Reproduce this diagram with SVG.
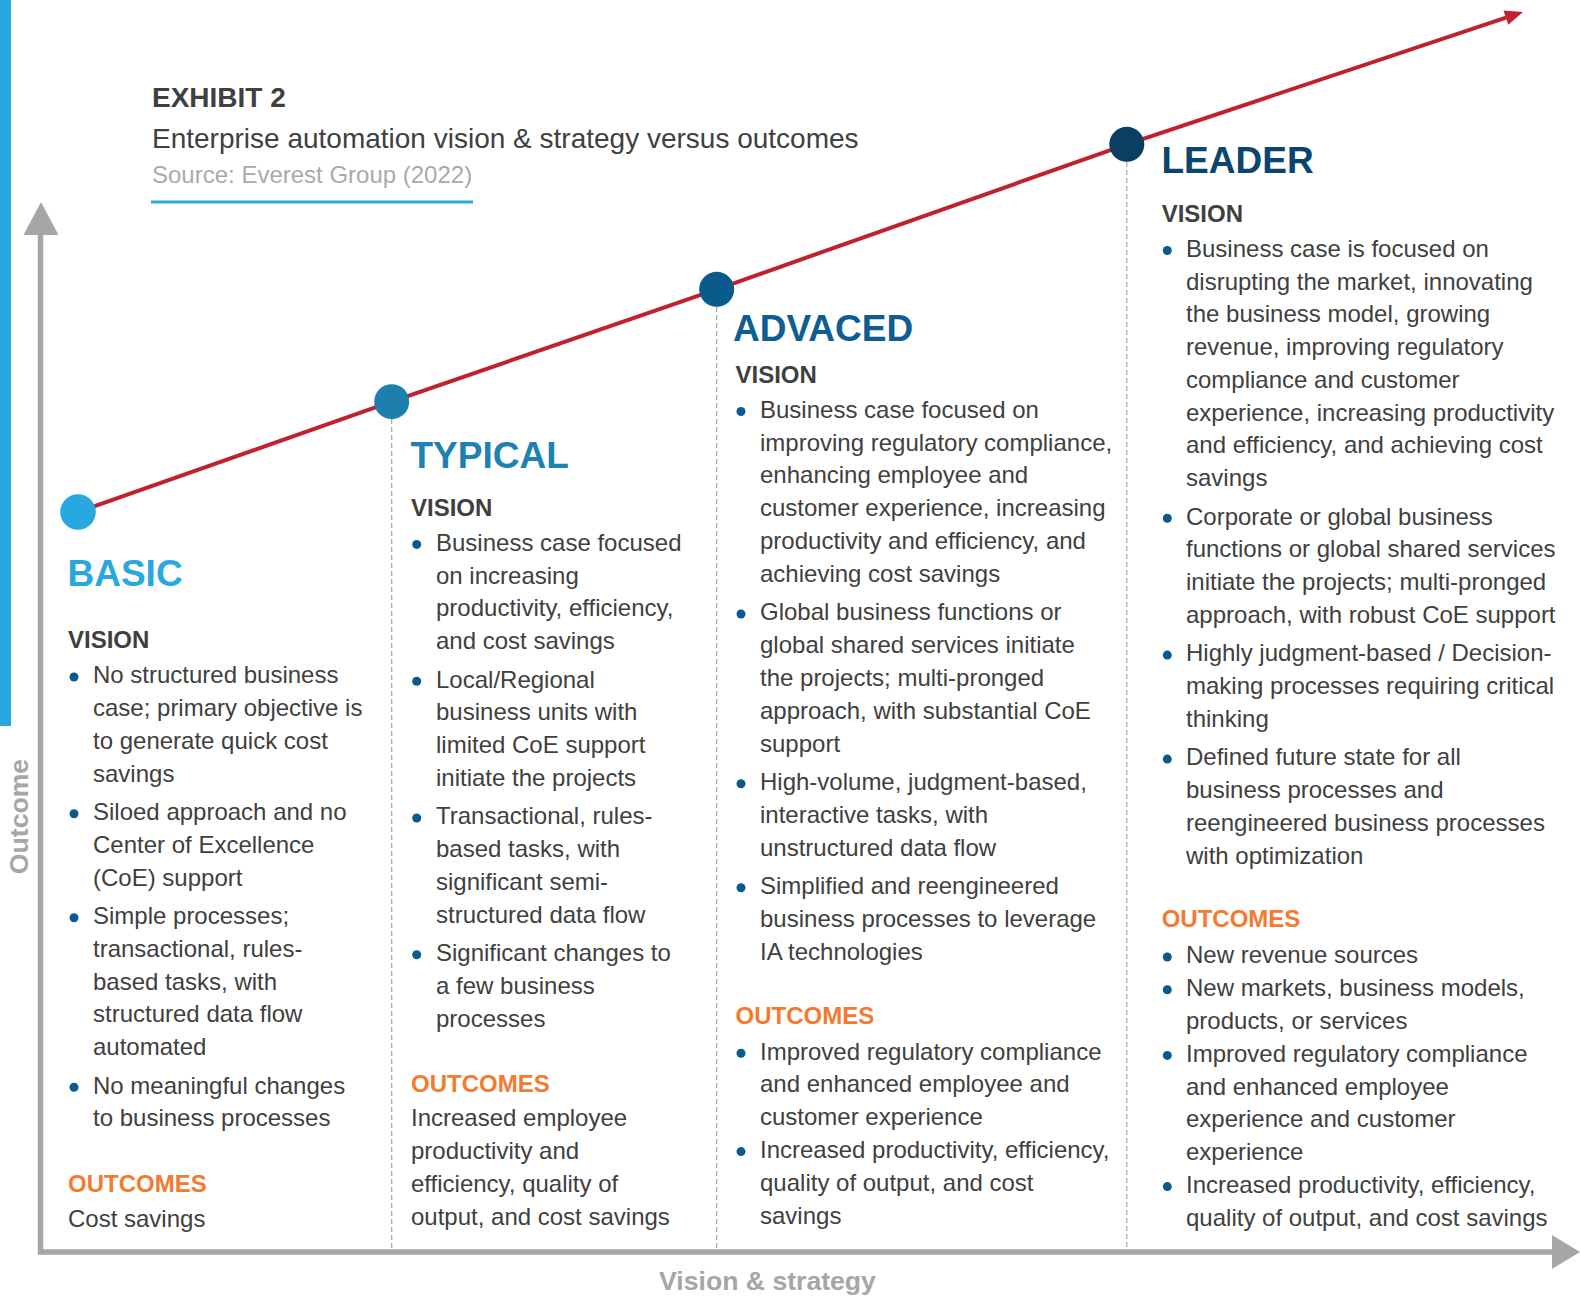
<svg xmlns="http://www.w3.org/2000/svg" width="1580" height="1296" viewBox="0 0 1580 1296">
<style>
text{font-family:"Liberation Sans",Arial,sans-serif}
.t{font-size:24px;fill:#404040}
.h{font-size:37px;font-weight:bold}
.v{font-size:24px;font-weight:bold;fill:#404040}
.o{font-size:24px;font-weight:bold;fill:#F47A30}
.b{fill:#0B5A8E}
.dash{stroke:#A6A6A6;stroke-width:1.2;stroke-dasharray:5 3;fill:none}
.ax{font-size:26.6px;font-weight:bold;fill:#A6A6A6}
</style>
<rect x="0" y="0" width="11" height="726" fill="#29A8E0"/>
<g id="title">
<text x="152" y="107" style="font-size:28px;font-weight:bold;fill:#404040">EXHIBIT 2</text>
<text x="152" y="148" style="font-size:28px;fill:#404040">Enterprise automation vision &amp; strategy versus outcomes</text>
<text x="152" y="183" style="font-size:24px;fill:#AAAAAA">Source: Everest Group (2022)</text>
<line x1="151" y1="202" x2="473" y2="202" stroke="#29A8E0" stroke-width="3"/>
</g>
<g id="axes">
<polyline points="40.5,232 40.5,1252 1555,1252" fill="none" stroke="#A6A6A6" stroke-width="5.5" stroke-linejoin="miter"/>
<polygon points="41,202 23.5,235 58.5,235" fill="#A6A6A6"/>
<polygon points="1580,1252 1552,1235 1552,1269" fill="#A6A6A6"/>
<text class="ax" transform="translate(28,816.5) rotate(-90)" text-anchor="middle" x="0" y="0">Outcome</text>
<text class="ax" x="767.5" y="1290" text-anchor="middle">Vision &amp; strategy</text>
</g>
<g id="connectors">
<line class="dash" x1="391.7" y1="419" x2="391.7" y2="1249"/>
<line class="dash" x1="716.7" y1="307" x2="716.7" y2="1249"/>
<line class="dash" x1="1126.8" y1="162" x2="1126.8" y2="1249"/>
<polyline points="78,512 391.7,401.7 716.7,289.3 1126.8,144.3 1506,17.7" fill="none" stroke="#C0202F" stroke-width="4"/>
<polygon points="1523,12 1508.3,24.8 1503.5,10.6" fill="#C0202F"/>
</g>
<g id="basic">
<circle cx="78" cy="512" r="17.8" fill="#29A8E0"/>
<text class="h" x="67.5" y="586" fill="#29A8E0">BASIC</text>
<text class="v" x="68" y="648.3">VISION</text>
<circle class="b" cx="74" cy="677" r="4.5"/>
<circle class="b" cx="74" cy="813.8" r="4.5"/>
<circle class="b" cx="74" cy="917.8" r="4.5"/>
<circle class="b" cx="74" cy="1087.3" r="4.5"/>
<text class="t">
<tspan x="93" y="683.3">No structured business</tspan>
<tspan x="93" y="716.1">case; primary objective is</tspan>
<tspan x="93" y="748.8">to generate quick cost</tspan>
<tspan x="93" y="781.6">savings</tspan>
<tspan x="93" y="820.1">Siloed approach and no</tspan>
<tspan x="93" y="852.9">Center of Excellence</tspan>
<tspan x="93" y="885.6">(CoE) support</tspan>
<tspan x="93" y="924.1">Simple processes;</tspan>
<tspan x="93" y="956.9">transactional, rules-</tspan>
<tspan x="93" y="989.6">based tasks, with</tspan>
<tspan x="93" y="1022.4">structured data flow</tspan>
<tspan x="93" y="1055.1">automated</tspan>
<tspan x="93" y="1093.6">No meaningful changes</tspan>
<tspan x="93" y="1126.4">to business processes</tspan>
</text>
<text class="o" x="68" y="1191.7">OUTCOMES</text>
<text class="t" x="68" y="1226.5">Cost savings</text>
</g>
<g id="typical">
<circle cx="391.7" cy="401.7" r="17.5" fill="#1D7FAE"/>
<text class="h" x="410.5" y="468.3" fill="#1D82B2">TYPICAL</text>
<text class="v" x="411" y="515.7">VISION</text>
<circle class="b" cx="416.7" cy="544.4" r="4.5"/>
<circle class="b" cx="416.7" cy="681.2" r="4.5"/>
<circle class="b" cx="416.7" cy="818" r="4.5"/>
<circle class="b" cx="416.7" cy="954.8" r="4.5"/>
<text class="t">
<tspan x="436" y="550.7">Business case focused</tspan>
<tspan x="436" y="583.5">on increasing</tspan>
<tspan x="436" y="616.2">productivity, efficiency,</tspan>
<tspan x="436" y="649">and cost savings</tspan>
<tspan x="436" y="687.5">Local/Regional</tspan>
<tspan x="436" y="720.3">business units with</tspan>
<tspan x="436" y="753">limited CoE support</tspan>
<tspan x="436" y="785.8">initiate the projects</tspan>
<tspan x="436" y="824.3">Transactional, rules-</tspan>
<tspan x="436" y="857.1">based tasks, with</tspan>
<tspan x="436" y="889.8">significant semi-</tspan>
<tspan x="436" y="922.6">structured data flow</tspan>
<tspan x="436" y="961.1">Significant changes to</tspan>
<tspan x="436" y="993.9">a few business</tspan>
<tspan x="436" y="1026.6">processes</tspan>
</text>
<text class="o" x="411" y="1091.7">OUTCOMES</text>
<text class="t">
<tspan x="411" y="1126.2">Increased employee</tspan>
<tspan x="411" y="1159">productivity and</tspan>
<tspan x="411" y="1191.7">efficiency, quality of</tspan>
<tspan x="411" y="1224.5">output, and cost savings</tspan>
</text>
</g>
<g id="advanced">
<circle cx="716.7" cy="289.3" r="17.5" fill="#0B5A8C"/>
<text class="h" x="733" y="341" fill="#0F5E91">ADVACED</text>
<text class="v" x="735.5" y="382.7">VISION</text>
<circle class="b" cx="741" cy="411.5" r="4.5"/>
<circle class="b" cx="741" cy="614" r="4.5"/>
<circle class="b" cx="741" cy="783.7" r="4.5"/>
<circle class="b" cx="741" cy="887.8" r="4.5"/>
<text class="t">
<tspan x="760" y="417.8">Business case focused on</tspan>
<tspan x="760" y="450.6">improving regulatory compliance,</tspan>
<tspan x="760" y="483.4">enhancing employee and</tspan>
<tspan x="760" y="516.2">customer experience, increasing</tspan>
<tspan x="760" y="549">productivity and efficiency, and</tspan>
<tspan x="760" y="581.8">achieving cost savings</tspan>
<tspan x="760" y="620.3">Global business functions or</tspan>
<tspan x="760" y="653.1">global shared services initiate</tspan>
<tspan x="760" y="685.9">the projects; multi-pronged</tspan>
<tspan x="760" y="718.7">approach, with substantial CoE</tspan>
<tspan x="760" y="751.5">support</tspan>
<tspan x="760" y="790">High-volume, judgment-based,</tspan>
<tspan x="760" y="822.8">interactive tasks, with</tspan>
<tspan x="760" y="855.6">unstructured data flow</tspan>
<tspan x="760" y="894.1">Simplified and reengineered</tspan>
<tspan x="760" y="926.9">business processes to leverage</tspan>
<tspan x="760" y="959.7">IA technologies</tspan>
</text>
<text class="o" x="735.5" y="1024">OUTCOMES</text>
<circle class="b" cx="741" cy="1053.2" r="4.5"/>
<circle class="b" cx="741" cy="1151.6" r="4.5"/>
<text class="t">
<tspan x="760" y="1059.5">Improved regulatory compliance</tspan>
<tspan x="760" y="1092.3">and enhanced employee and</tspan>
<tspan x="760" y="1125.1">customer experience</tspan>
<tspan x="760" y="1157.9">Increased productivity, efficiency,</tspan>
<tspan x="760" y="1190.7">quality of output, and cost</tspan>
<tspan x="760" y="1223.5">savings</tspan>
</text>
</g>
<g id="leader">
<circle cx="1126.8" cy="144.3" r="17.5" fill="#0A3F63"/>
<text class="h" x="1161.5" y="173.3" fill="#0A4570">LEADER</text>
<text class="v" x="1161.7" y="221.7">VISION</text>
<circle class="b" cx="1167.3" cy="250.5" r="4.5"/>
<circle class="b" cx="1167.3" cy="518.3" r="4.5"/>
<circle class="b" cx="1167.3" cy="655.1" r="4.5"/>
<circle class="b" cx="1167.3" cy="759.1" r="4.5"/>
<text class="t">
<tspan x="1186" y="256.8">Business case is focused on</tspan>
<tspan x="1186" y="289.6">disrupting the market, innovating</tspan>
<tspan x="1186" y="322.3">the business model, growing</tspan>
<tspan x="1186" y="355.1">revenue, improving regulatory</tspan>
<tspan x="1186" y="387.8">compliance and customer</tspan>
<tspan x="1186" y="420.6">experience, increasing productivity</tspan>
<tspan x="1186" y="453.3">and efficiency, and achieving cost</tspan>
<tspan x="1186" y="486.1">savings</tspan>
<tspan x="1186" y="524.6">Corporate or global business</tspan>
<tspan x="1186" y="557.4">functions or global shared services</tspan>
<tspan x="1186" y="590.1">initiate the projects; multi-pronged</tspan>
<tspan x="1186" y="622.9">approach, with robust CoE support</tspan>
<tspan x="1186" y="661.4">Highly judgment-based / Decision-</tspan>
<tspan x="1186" y="694.2">making processes requiring critical</tspan>
<tspan x="1186" y="726.9">thinking</tspan>
<tspan x="1186" y="765.4">Defined future state for all</tspan>
<tspan x="1186" y="798.2">business processes and</tspan>
<tspan x="1186" y="830.9">reengineered business processes</tspan>
<tspan x="1186" y="863.7">with optimization</tspan>
</text>
<text class="o" x="1161.7" y="927.3">OUTCOMES</text>
<circle class="b" cx="1167.3" cy="957" r="4.5"/>
<circle class="b" cx="1167.3" cy="989.8" r="4.5"/>
<circle class="b" cx="1167.3" cy="1055.4" r="4.5"/>
<circle class="b" cx="1167.3" cy="1186.6" r="4.5"/>
<text class="t">
<tspan x="1186" y="963.3">New revenue sources</tspan>
<tspan x="1186" y="996.1">New markets, business models,</tspan>
<tspan x="1186" y="1028.9">products, or services</tspan>
<tspan x="1186" y="1061.7">Improved regulatory compliance</tspan>
<tspan x="1186" y="1094.5">and enhanced employee</tspan>
<tspan x="1186" y="1127.3">experience and customer</tspan>
<tspan x="1186" y="1160.1">experience</tspan>
<tspan x="1186" y="1192.9">Increased productivity, efficiency,</tspan>
<tspan x="1186" y="1225.7">quality of output, and cost savings</tspan>
</text>
</g>
</svg>
